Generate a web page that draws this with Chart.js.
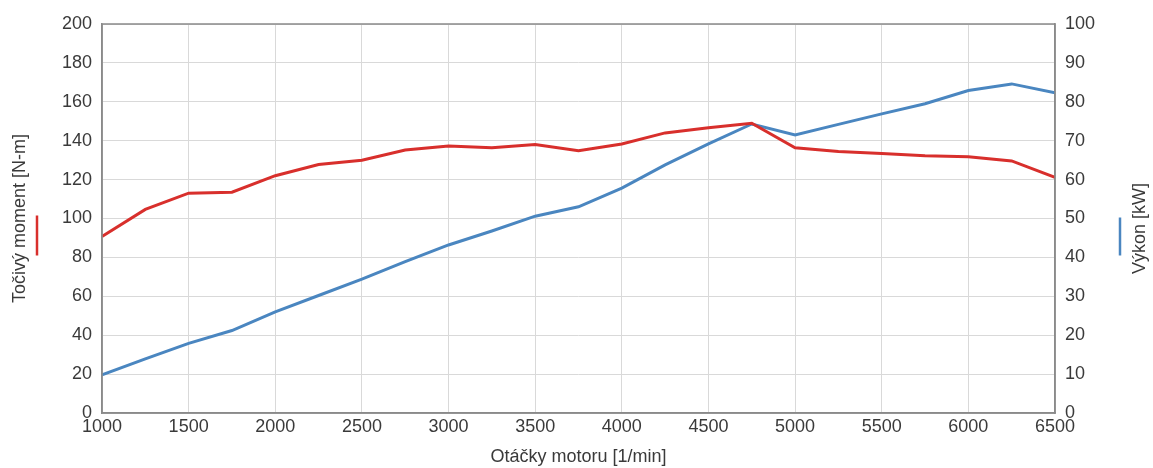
<!DOCTYPE html>
<html>
<head>
<meta charset="utf-8">
<script src="https://cdn.jsdelivr.net/npm/chart.js@4/dist/chart.umd.min.js"></script>
<style>
html,body{margin:0;padding:0;background:#fff;}
#wrap{width:1153px;height:468px;}
</style>
</head>
<body>
<div id="wrap"><canvas id="c" width="1153" height="468"></canvas></div>
<script>
const rpm = [1000,1250,1500,1750,2000,2250,2500,2750,3000,3250,3500,3750,4000,4250,4500,4750,5000,5250,5500,5750,6000,6250,6500];
const torque = [90.8,104.7,113,113.5,122,127.8,130,135.2,137.3,136.4,138,134.9,138.3,144,146.6,149,136.4,134.5,133.4,132.2,131.8,129.6,121.2];
const power = [9.8,13.9,17.9,21.2,26,30.2,34.4,38.9,43.2,46.8,50.6,53,57.8,63.8,69.2,74.3,71.5,74.2,76.9,79.5,82.9,84.6,82.3];
const xTitle = 'Otáčky motoru [1/min]';
const yLeftTitle = 'Točivý moment [N-m]';
const yRightTitle = 'Výkon [kW]';
const redColor = '#d82f2c';
const blueColor = '#4a86c0';

const FONT = "'Liberation Sans', Arial, sans-serif";
const FS = 18;
const tickColor = '#3a3a3a';

const framePlugin = {
  id: 'frame',
  afterDatasetsDraw(chart) {
    const {ctx, chartArea: a} = chart;
    ctx.save();
    ctx.strokeStyle = '#8a8a8a';
    ctx.lineWidth = 1.5;
    ctx.strokeRect(a.left, a.top, a.right - a.left, a.bottom - a.top);
    const midY = (a.top + a.bottom) / 2;
    // right axis title, reading bottom-to-top like the left one
    ctx.fillStyle = tickColor;
    ctx.font = FS + 'px ' + FONT;
    ctx.textAlign = 'center';
    ctx.textBaseline = 'middle';
    ctx.translate(1140, midY + 10);
    ctx.rotate(-Math.PI / 2);
    ctx.fillText(yRightTitle, 0, 0);
    ctx.setTransform(1, 0, 0, 1, 0, 0);
    // legend markers beside axis titles
    ctx.lineWidth = 2.5;
    ctx.strokeStyle = redColor;
    ctx.beginPath(); ctx.moveTo(37, midY - 3); ctx.lineTo(37, midY + 37); ctx.stroke();
    ctx.strokeStyle = blueColor;
    ctx.beginPath(); ctx.moveTo(1120, midY - 1); ctx.lineTo(1120, midY + 37); ctx.stroke();
    ctx.restore();
  }
};

new Chart(document.getElementById('c'), {
  type: 'line',
  data: {
    datasets: [
      { label: yLeftTitle, data: rpm.map((x,i)=>({x, y: torque[i]})), borderColor: redColor, borderWidth: 3, pointRadius: 0, yAxisID: 'y', tension: 0 },
      { label: yRightTitle, data: rpm.map((x,i)=>({x, y: power[i]})), borderColor: blueColor, borderWidth: 3, pointRadius: 0, yAxisID: 'y1', tension: 0 }
    ]
  },
  options: {
    responsive: false,
    animation: false,
    layout: { padding: { top: 24, left: 0, right: 0, bottom: 0 } },
    plugins: { legend: { display: false }, tooltip: { enabled: false } },
    scales: {
      x: {
        type: 'linear', min: 1000, max: 6500,
        ticks: { stepSize: 500, color: tickColor, font: { family: FONT, size: FS }, padding: 3, maxRotation: 0, callback: v => String(v) },
        grid: { color: '#d9d9d9', drawTicks: false, lineWidth: 1 },
        border: { color: '#8a8a8a', width: 1.5 },
        title: { display: true, text: xTitle, color: tickColor, font: { family: FONT, size: FS }, padding: { top: 2, bottom: 0 } },
        afterFit(s) { s.height = 55; }
      },
      y: {
        position: 'left', min: 0, max: 200,
        ticks: { stepSize: 20, color: tickColor, font: { family: FONT, size: FS }, padding: 10 },
        grid: { color: '#d9d9d9', drawTicks: false },
        border: { color: '#8a8a8a', width: 1.5 },
        title: { display: true, text: yLeftTitle, color: tickColor, font: { family: FONT, size: FS }, padding: { top: 9, bottom: 0 } },
        afterFit(s) { s.width = 102; }
      },
      y1: {
        position: 'right', min: 0, max: 100,
        ticks: { stepSize: 10, color: tickColor, font: { family: FONT, size: FS }, padding: 10 },
        grid: { drawOnChartArea: false, drawTicks: false },
        border: { color: '#8a8a8a', width: 1.5 },
        title: { display: false },
        afterFit(s) { s.width = 98; }
      }
    }
  },
  plugins: [framePlugin]
});
</script>
</body>
</html>
